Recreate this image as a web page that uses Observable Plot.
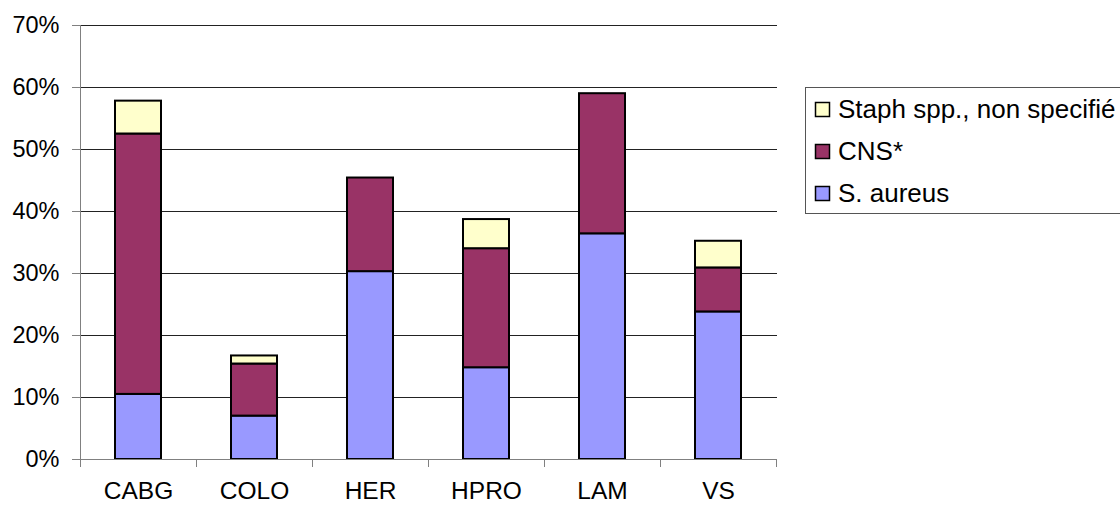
<!DOCTYPE html>
<html>
<head>
<meta charset="utf-8">
<script src="https://cdn.jsdelivr.net/npm/d3@7"></script>
<script src="https://cdn.jsdelivr.net/npm/@observablehq/plot@0.6"></script>
<style>
  html, body { margin: 0; padding: 0; background: #fff; }
  #chart svg { display: block; }
</style>
</head>
<body>
<div id="chart"></div>
<script>
const categories = ["CABG", "COLO", "HER", "HPRO", "LAM", "VS"];
const seriesNames = ["S. aureus", "CNS*", "Staph spp., non specifié"];
const aureus = [10.5, 7.0, 30.3, 14.8, 36.4, 23.8];
const cns = [42.0, 8.4, 15.1, 19.2, 22.6, 7.1];
const staph = [5.3, 1.3, 0, 4.7, 0, 4.3];
const colors = ["#9999FF", "#993366", "#FFFFCC"];
const yTicks = [0, 10, 20, 30, 40, 50, 60, 70];

const seriesValues = [aureus, cns, staph];
const data = [];
seriesNames.forEach((s, si) => {
  categories.forEach((c, ci) => {
    data.push({category: c, series: s, value: seriesValues[si][ci]});
  });
});

const font = "'Liberation Sans', Arial, sans-serif";

// x-axis line and tick marks at category boundaries
const xBoundaryTicks = (index, scales, values, dims) => {
  const x = scales.x;
  const step = x.step();
  const y0 = scales.y(0);
  const g = d3.create("svg:g");
  const lefts = categories.map(c => x(c) + x.bandwidth() / 2 - step / 2);
  lefts.push(lefts[lefts.length - 1] + step);
  g.append("line")
    .attr("x1", dims.marginLeft).attr("x2", dims.width - dims.marginRight)
    .attr("y1", y0 + 0.5).attr("y2", y0 + 0.5)
    .attr("stroke", "#808080").attr("stroke-width", 1);
  lefts.forEach(px => {
    g.append("line")
      .attr("x1", Math.round(px) + 0.5).attr("x2", Math.round(px) + 0.5)
      .attr("y1", y0).attr("y2", y0 + 8)
      .attr("stroke", "#808080").attr("stroke-width", 1);
  });
  g.append("line")
    .attr("x1", dims.marginLeft + 0.5).attr("x2", dims.marginLeft + 0.5)
    .attr("y1", scales.y(70)).attr("y2", y0)
    .attr("stroke", "#808080").attr("stroke-width", 1);
  return g.node();
};

// legend inside the svg
const legendMark = (index, scales, values, dims) => {
  const g = d3.create("svg:g")
    .attr("font-family", font)
    .attr("font-size", 26)
    .attr("text-anchor", "start");
  const bx = dims.width - dims.marginRight + 28;
  const by = scales.y(60);
  g.append("rect")
    .attr("x", bx + 0.5).attr("y", by + 0.5)
    .attr("width", 400).attr("height", 126)
    .attr("fill", "#fff").attr("stroke", "#555").attr("stroke-width", 1);
  const order = [2, 1, 0];
  order.forEach((si, i) => {
    const cy = by + 22 + i * 42;
    g.append("rect")
      .attr("x", bx + 10.5).attr("y", cy - 6.5)
      .attr("width", 14).attr("height", 14)
      .attr("fill", colors[si]).attr("stroke", "#000").attr("stroke-width", 1.5);
    g.append("text")
      .attr("x", bx + 33).attr("y", cy)
      .attr("dy", "0.35em")
      .attr("fill", "#000")
      .text(seriesNames[si]);
  });
  return g.node();
};

const chart = Plot.plot({
  width: 1120,
  height: 506,
  marginLeft: 80,
  marginRight: 343,
  marginTop: 25,
  marginBottom: 47,
  style: {fontFamily: font, background: "#fff", overflow: "visible"},
  x: {domain: categories, paddingInner: 0.6, paddingOuter: 0.3, label: null},
  y: {domain: [0, 70], label: null},
  color: {domain: seriesNames, range: colors},
  marks: [
    Plot.ruleY(yTicks.filter(d => d > 0), {stroke: "#222", strokeWidth: 1}),
    Plot.axisY({ticks: yTicks, tickFormat: d => d + "%", tickSize: 8, tickPadding: 13, fontSize: 23.5, color: "#000", stroke: "#808080"}),
    Plot.axisX({tickSize: 0, tickPadding: 22, fontSize: 24.5, color: "#000"}),
    Plot.barY(data, {x: "category", y: "value", fill: "series", order: seriesNames, stroke: "#000", strokeWidth: 2}),
    xBoundaryTicks,
    legendMark
  ]
});
document.getElementById("chart").appendChild(chart);
</script>
</body>
</html>
